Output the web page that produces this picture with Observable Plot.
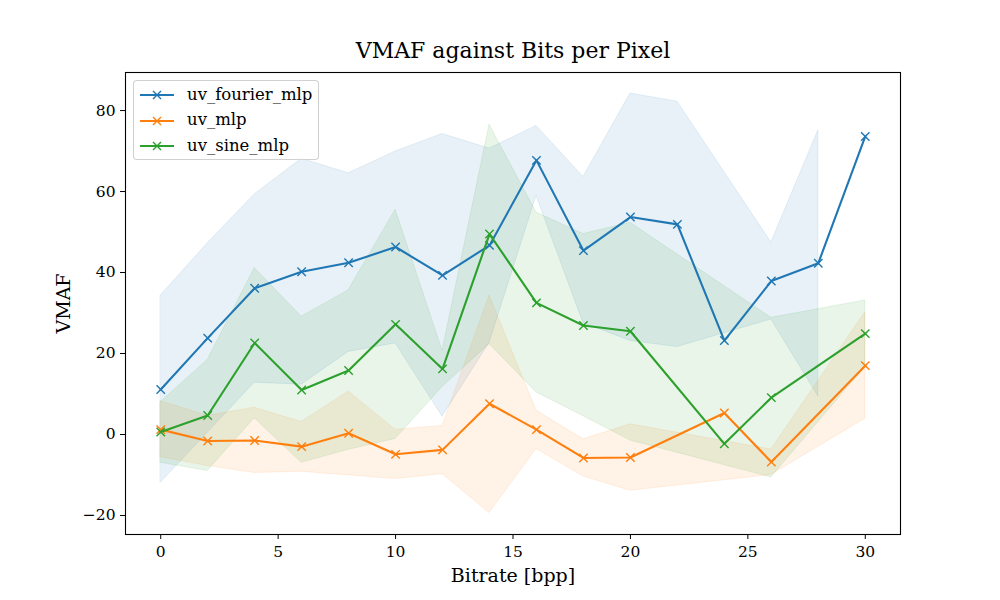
<!DOCTYPE html>
<html>
<head>
<meta charset="utf-8">
<script src="https://cdn.jsdelivr.net/npm/d3@7"></script>
<script src="https://cdn.jsdelivr.net/npm/@observablehq/plot@0.6"></script>
<style>
  html, body { margin: 0; padding: 0; background: #fff; }
  #wrap { position: relative; width: 1000px; height: 600px; font-family: "DejaVu Serif", serif; }
  #legend { position: absolute; left: 133px; top: 80px; width: 186px; height: 80px;
    border: 1px solid rgba(204,204,204,0.9); border-radius: 4px; background: rgba(255,255,255,0.8);
    box-sizing: border-box; }
  .row { position: absolute; left: 0; height: 24px; display: flex; align-items: center; }
  .row svg { margin-left: 6px; }
  .row span { margin-left: 11px; font-size: 16.5px; color: #000; line-height: 1; }
  #chart svg g[aria-label="x-axis tick label"] text, #chart svg g[aria-label="y-axis tick label"] text { font-size: 15.5px; }
</style>
</head>
<body>
<div id="wrap"><div id="chart"></div><div id="legend"></div></div>
<script>
// ---- data ----
const seriesNames = ["uv_fourier_mlp", "uv_mlp", "uv_sine_mlp"];
const seriesColors = ["#1f77b4", "#ff7f0e", "#2ca02c"];

// uv_fourier_mlp
const fourierX = [0, 2, 4, 6, 8, 10, 12, 14, 16, 18, 20, 22, 24, 26, 28, 30];
const fourierMean = [11.1, 23.8, 36.1, 40.2, 42.4, 46.3, 39.3, 46.7, 67.7, 45.4, 53.7, 51.9, 23.2, 37.9, 42.3, 73.6];
const fourierBandX = [0, 2, 4, 6, 8, 10, 12, 14, 16, 18, 20, 22, 26, 28];
const fourierUpper = [34.3, 47.2, 59.3, 68.1, 64.5, 69.9, 74.2, 70.6, 76.2, 63.6, 84.2, 82.2, 47.4, 75.1];
const fourierLower = [-11.9, 0.4, 12.8, 12.3, 20.4, 22.5, 4.4, 22.6, 58.9, 27.5, 23.1, 21.6, 28.4, 9.4];

// uv_mlp
const mlpX = [0, 2, 4, 6, 8, 10, 12, 14, 16, 18, 20, 24, 26, 30];
const mlpMean = [1.2, -1.6, -1.5, -3.0, 0.3, -4.9, -3.8, 7.6, 1.2, -5.8, -5.7, 5.3, -6.8, 17.0];
const mlpBandX = [0, 2, 4, 6, 8, 10, 12, 14, 16, 18, 20, 26, 30];
const mlpUpper = [8.2, 4.6, 6.6, 3.1, 10.6, 1.2, 2.1, 34.3, 5.9, -1.2, 2.5, -3.7, 30.2];
const mlpLower = [-5.6, -7.8, -9.5, -9.2, -10.1, -11.0, -9.8, -19.4, -3.6, -10.4, -13.9, -10.0, 3.9];

// uv_sine_mlp
const sineX = [0, 2, 4, 6, 8, 10, 12, 14, 16, 18, 20, 24, 26, 30];
const sineMean = [0.6, 4.7, 22.6, 11.0, 15.8, 27.2, 16.2, 49.5, 32.5, 26.9, 25.5, -2.3, 9.1, 24.9];
const sineBandX = [0, 2, 4, 6, 8, 10, 12, 14, 16, 18, 20, 26, 30];
const sineUpper = [8.0, 18.4, 41.1, 29.1, 35.6, 55.5, 20.7, 76.5, 54.8, 49.5, 52.3, 28.8, 33.1];
const sineLower = [-7.0, -9.0, 4.0, -7.0, -3.8, -1.1, 11.7, 22.3, 10.4, 4.5, -1.5, -10.6, 16.7];

const xTicks = [0, 5, 10, 15, 20, 25, 30];
const yTicks = [-20, 0, 20, 40, 60, 80];
const titleText = "VMAF against Bits per Pixel";
const xLabel = "Bitrate [bpp]";
const yLabel = "VMAF";

// ---- build tables ----
const lines = [
  {name: seriesNames[0], x: fourierX, y: fourierMean, bx: fourierBandX, hi: fourierUpper, lo: fourierLower},
  {name: seriesNames[1], x: mlpX, y: mlpMean, bx: mlpBandX, hi: mlpUpper, lo: mlpLower},
  {name: seriesNames[2], x: sineX, y: sineMean, bx: sineBandX, hi: sineUpper, lo: sineLower}
];
const pts = lines.flatMap(s => s.x.map((x, i) => ({series: s.name, x, y: s.y[i]})));
const bands = lines.flatMap(s => s.bx.map((x, i) => ({series: s.name, x, hi: s.hi[i], lo: s.lo[i]})));
const colorOf = Object.fromEntries(seriesNames.map((n, i) => [n, seriesColors[i]]));
const fmt = d => d < 0 ? "\u2212" + Math.abs(d) : String(d);

const marks = [];
for (const s of lines) {
  marks.push(Plot.areaY(bands.filter(d => d.series === s.name), {
    x: "x", y1: "lo", y2: "hi", fill: colorOf[s.name], fillOpacity: 0.1,
    stroke: colorOf[s.name], strokeOpacity: 0.1, strokeWidth: 1
  }));
}
for (const s of lines) {
  const data = pts.filter(d => d.series === s.name);
  marks.push(Plot.line(data, {x: "x", y: "y", stroke: colorOf[s.name], strokeWidth: 2.1}));
  marks.push(Plot.dot(data, {x: "x", y: "y", symbol: "times", r: 3.9, stroke: colorOf[s.name], strokeWidth: 1.4}));
}

const chart = Plot.plot({
  width: 1000, height: 600,
  marginLeft: 125, marginRight: 100, marginTop: 72, marginBottom: 66,
  style: {fontFamily: "DejaVu Serif", fontSize: "15.5px", color: "#000", background: "#fff"},
  x: {domain: [-1.5, 31.5]},
  y: {domain: [-24.7, 89.4]},
  marks: [
    ...marks,
    Plot.axisX({ticks: xTicks, tickSize: 5, tickPadding: 6, tickFormat: fmt, label: null, fontSize: 15.5, stroke: "#000"}),
    Plot.axisY({ticks: yTicks, tickSize: 5, tickPadding: 5, tickFormat: fmt, label: null, fontSize: 15.5, stroke: "#000"}),
    Plot.frame({stroke: "#000", strokeWidth: 1.1}),
    Plot.text([titleText], {frameAnchor: "top", dy: -15, fontSize: 22, textAnchor: "middle", lineAnchor: "bottom"}),
    Plot.text([xLabel], {frameAnchor: "bottom", dy: 47, fontSize: 19, lineAnchor: "bottom"}),
    Plot.text([yLabel], {frameAnchor: "left", dx: -62, fontSize: 19, rotate: -90, textAnchor: "middle"})
  ]
});
document.getElementById("chart").appendChild(chart);

// ---- legend ----
const legend = document.getElementById("legend");
seriesNames.forEach((n, i) => {
  const row = document.createElement("div");
  row.className = "row";
  row.style.top = (2 + i * 25.5) + "px";
  row.innerHTML = `<svg width="36" height="12"><line x1="0" y1="6" x2="34" y2="6" stroke="${seriesColors[i]}" stroke-width="2.1"/>` +
    `<path d="M13,2 L21,10 M13,10 L21,2" stroke="${seriesColors[i]}" stroke-width="1.4"/></svg><span>${n}</span>`;
  legend.appendChild(row);
});
</script>
</body>
</html>
